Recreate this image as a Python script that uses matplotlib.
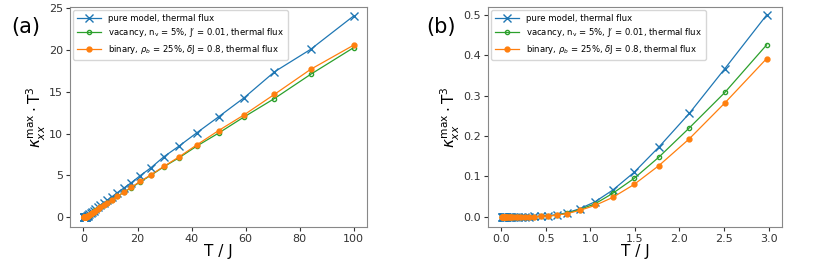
import matplotlib.pyplot as plt

# panel (a): full temperature range
T_a = [100, 84.1, 70.7, 59.5, 50.0, 42.0, 35.4, 29.7, 25.0, 21.0, 17.7, 14.9,
       12.5, 10.5, 8.84, 7.43, 6.25, 5.26, 4.42, 3.72, 3.13, 2.63, 2.21, 1.86,
       1.56, 1.31, 1.10, 0.93, 0.78, 0.66, 0.55, 0.46, 0.39, 0.33, 0.28, 0.23, 0.2]
pure_a = [24.1, 20.1, 17.4, 14.3, 12.0, 10.1, 8.5, 7.2, 5.9, 4.95, 4.1, 3.45,
          2.9, 2.4, 2.0, 1.65, 1.38, 1.13, 0.92, 0.73, 0.56, 0.42, 0.3, 0.2,
          0.13, 0.08, 0.045, 0.025, 0.012, 0.006, 0.003, 0.002, 0.001, 0.0, 0.0, 0.0, 0.0]
vac_a = [20.3, 17.1, 14.2, 12.0, 10.05, 8.5, 7.1, 6.0, 5.0, 4.2, 3.5, 2.95,
         2.45, 2.05, 1.7, 1.4, 1.17, 0.96, 0.78, 0.61, 0.46, 0.34, 0.24, 0.16,
         0.1, 0.06, 0.033, 0.018, 0.009, 0.004, 0.002, 0.001, 0.0, 0.0, 0.0, 0.0, 0.0]
bin_a = [20.6, 17.7, 14.7, 12.25, 10.35, 8.65, 7.2, 6.05, 5.05, 4.25, 3.55, 2.95,
         2.45, 2.05, 1.7, 1.4, 1.15, 0.93, 0.74, 0.57, 0.42, 0.3, 0.2, 0.13,
         0.08, 0.048, 0.028, 0.015, 0.008, 0.004, 0.002, 0.001, 0.0, 0.0, 0.0, 0.0, 0.0]

# panel (b): low temperature range
T_b = [2.98, 2.51, 2.11, 1.77, 1.49, 1.25, 1.05, 0.88, 0.74, 0.62, 0.52, 0.44,
       0.37, 0.31, 0.26, 0.22, 0.19, 0.16, 0.13, 0.11, 0.095, 0.08, 0.067, 0.056,
       0.047, 0.04, 0.033, 0.028, 0.024, 0.02, 0.017, 0.014, 0.012, 0.01]
pure_b = [0.5, 0.367, 0.256, 0.173, 0.11, 0.066, 0.037, 0.02, 0.01, 0.005, 0.003, 0.002,
          0.001, 0.0, 0.0, 0.0, 0.0, 0.0, 0.0, 0.0, 0.0, 0.0, 0.0, 0.0,
          0.0, 0.0, 0.0, 0.0, 0.0, 0.0, 0.0, 0.0, 0.0, 0.0]
vac_b = [0.426, 0.308, 0.22, 0.148, 0.095, 0.058, 0.032, 0.018, 0.009, 0.004, 0.002, 0.001,
         0.0, 0.0, 0.0, 0.0, 0.0, 0.0, 0.0, 0.0, 0.0, 0.0, 0.0, 0.0,
         0.0, 0.0, 0.0, 0.0, 0.0, 0.0, 0.0, 0.0, 0.0, 0.0]
bin_b = [0.392, 0.282, 0.193, 0.127, 0.08, 0.048, 0.028, 0.016, 0.008, 0.004, 0.002, 0.001,
         0.0, 0.0, 0.0, 0.0, 0.0, 0.0, 0.0, 0.0, 0.0, 0.0, 0.0, 0.0,
         0.0, 0.0, 0.0, 0.0, 0.0, 0.0, 0.0, 0.0, 0.0, 0.0]

labels = ['pure model, thermal flux',
          r"vacancy, n$_\mathregular{v}$ = 5%, J$'$ = 0.01, thermal flux",
          r'binary, $\rho_b$ = 25%, $\delta$J = 0.8, thermal flux']

fig = plt.figure(figsize=(8.3, 2.62), dpi=100)
ax1 = fig.add_axes([0.0843, 0.134, 0.358, 0.84])
ax2 = fig.add_axes([0.588, 0.134, 0.354, 0.84])

for ax, T, pure, vac, binr in [(ax1, T_a, pure_a, vac_a, bin_a),
                               (ax2, T_b, pure_b, vac_b, bin_b)]:
    ax.plot(T, pure, color='tab:blue', marker='x', markersize=5.5, lw=0.9, label=labels[0])
    ax.plot(T, vac, color='tab:green', marker='o', markersize=3, mfc='none', lw=0.9, label=labels[1])
    ax.plot(T, binr, color='tab:orange', marker='o', markersize=3.5, lw=0.9, label=labels[2])
    ax.set_xlabel('T / J', fontsize=11, labelpad=0)
    ax.set_ylabel(r'$\kappa_{xx}^{\mathrm{max}}\cdot\mathrm{T}^3$', fontsize=11, labelpad=1)
    ax.tick_params(labelsize=8, length=3, pad=2, colors='#333333')
    ax.legend(loc='upper left', fontsize=6.1, handlelength=2.9, borderaxespad=0.4,
              labelspacing=0.45)
    for s in ax.spines.values():
        s.set_color('#888888')

ax1.set_xlim(-5, 105)
ax1.set_ylim(-1.2, 25.2)
ax1.set_yticks([0, 5, 10, 15, 20, 25])
ax2.set_xlim(-0.15, 3.15)
ax2.set_ylim(-0.025, 0.52)

fig.text(0.014, 0.875, '(a)', fontsize=15)
fig.text(0.514, 0.875, '(b)', fontsize=15)

fig.savefig('out.png', dpi=100)
